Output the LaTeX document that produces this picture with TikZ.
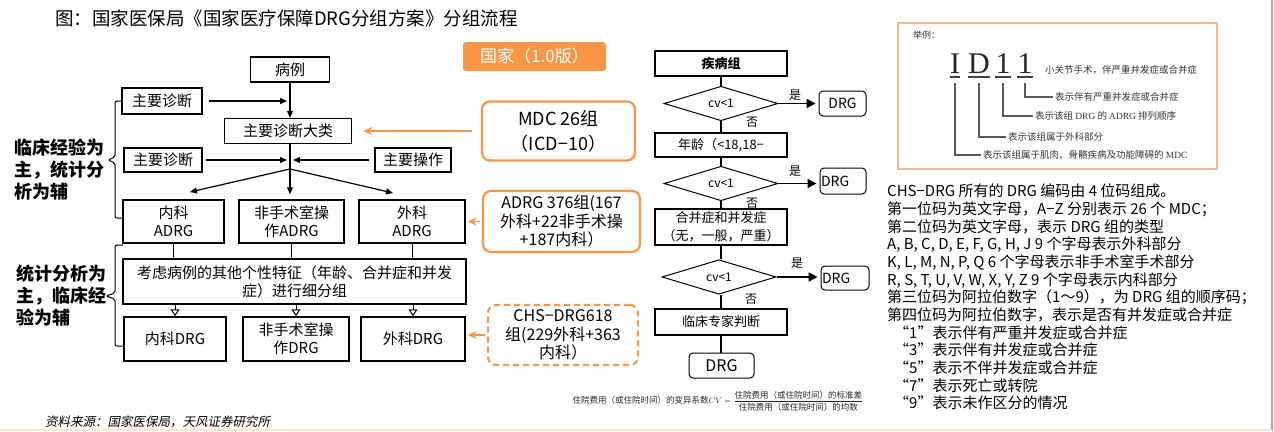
\documentclass[tikz,border=0pt]{standalone}
\usepackage{fontspec}
\setmainfont{Noto Sans CJK SC}
\newfontfamily\idfont{Liberation Serif}
\newfontfamily\srcfont[FakeSlant=0.2]{Noto Sans CJK SC}
\usetikzlibrary{arrows.meta,shapes.geometric}
\definecolor{drgorange}{HTML}{F79646}
\definecolor{egline}{HTML}{F8B98A}
\tikzset{
  blk/.style={draw,line width=1.5pt,align=center,inner sep=1pt,font=\fontsize{15}{18}\selectfont},
  note/.style={draw=drgorange,line width=2.2pt,rounded corners=8pt,align=center,inner sep=1pt,font=\fontsize{16}{18.5}\selectfont},
  orarr/.style={draw=drgorange,line width=1.5pt,-{Stealth[length=9pt,width=8pt]}},
  side/.style={anchor=west,align=left,inner sep=0pt,font=\fontsize{18}{22}\selectfont\bfseries},
  fbox/.style={draw,line width=1.2pt,align=center,inner sep=1pt,minimum width=132pt,font=\fontsize{13}{18}\selectfont},
  dia/.style={draw,diamond,line width=1pt,inner sep=0pt,minimum width=114pt,font=\fontsize{12}{12}\selectfont},
  rdrg/.style={draw,rounded corners=4pt,line width=1pt,inner sep=1pt,font=\fontsize{14}{14}\selectfont},
  lbl/.style={inner sep=0pt,font=\fontsize{12}{12}\selectfont},
  yesarr/.style={line width=1.5pt,-{Triangle[length=9pt,width=9pt]},shorten >=3pt},
  eg/.style={anchor=west,inner sep=0pt,text=black!80,font=\fontsize{9.5}{9.5}\selectfont},
  lead/.style={draw=black!65,line width=1.4pt,shorten >=2pt},
}
\begin{document}
\begin{tikzpicture}[x=1pt,y=-1pt,>={Triangle[length=7pt,width=6pt]}]
\useasboundingbox (0,0) rectangle (1274,431);
% 标题
\node[anchor=west,inner sep=0pt,font=\fontsize{18.5}{20}\selectfont] (title) at (55,18)
  {图：国家医保局《国家医疗保障DRG分组方案》分组流程};
% 左侧：分组流程
\node[blk,minimum width=79pt,minimum height=25pt] (case) at (290,69.5) {病例};
\node[blk,minimum width=80pt,minimum height=26pt] (diagA) at (162,101) {主要诊断};
\node[blk,minimum width=127pt,minimum height=25pt] (mdc) at (288,131) {主要诊断大类};
\node[blk,minimum width=78pt,minimum height=24pt] (diagB) at (163,160) {主要诊断};
\node[blk,minimum width=76pt,minimum height=24pt] (oper) at (413,160) {主要操作};
\coordinate (fork) at (290,169);
\coordinate (hitA) at (287,101);
\coordinate (hitB) at (287,160);
\coordinate (hitC) at (293,160);
\coordinate (toL) at (190,192);
\coordinate (toR) at (393,193);
\node[blk,minimum width=101pt,minimum height=43pt] (adrgA) at (173.5,221.5) {内科\\ADRG};
\node[blk,minimum width=105pt,minimum height=43pt] (adrgB) at (291.5,221.5) {非手术室操\\作ADRG};
\node[blk,minimum width=106pt,minimum height=43pt] (adrgC) at (412,221.5) {外科\\ADRG};
\node[blk,minimum width=343pt,minimum height=45pt] (detail) at (294.5,281.5)
  {考虑病例的其他个性特征（年龄、合并症和并发\\症）进行细分组};
\node[blk,minimum width=102pt,minimum height=44pt] (drgA) at (175,339) {内科DRG};
\node[blk,minimum width=106pt,minimum height=44pt] (drgB) at (296,339) {非手术室操\\作DRG};
\node[blk,minimum width=104pt,minimum height=44pt] (drgC) at (413,339) {外科DRG};
% 箭头
\begin{scope}[line width=1.2pt]
  \draw[->] (case.south) -- (case.south |- mdc.north);
  \draw[->,shorten <=6pt] (diagA) -- (hitA);
  \draw (mdc.south -| fork) -- (fork);
  \draw[->,shorten >=5pt] (fork) -- (fork |- adrgB.north);
  \draw[->,shorten <=3pt] (diagB) -- (hitB);
  \draw[->,shorten <=5pt] (oper) -- (hitC);
  \draw[->] (fork) -- (toL);
  \draw[->] (fork) -- (toR);
\end{scope}
\foreach \a in {A,B,C}{
  \draw[line width=1pt] (adrg\a.south) -- (adrg\a.south |- detail.north);
  \draw[line width=1pt,-{Triangle[open,length=7pt,width=9pt]}] (drg\a.north |- detail.south) -- (drg\a.north);
}
% 左侧括号与说明
\draw[line width=1pt,rounded corners=2pt] (diagA.west) -- (115,101) -- (115,157) -- (108,160)
  -- (115,163) -- (115,218) -- (123,218);
\draw[line width=1pt,rounded corners=2pt] (123,245) -- (115,245) -- (115,293) -- (106,296)
  -- (115,299) -- (115,346) -- (124,346);
\node[side] (expA) at (14,170) {临床经验为\\主，统计分\\析为辅};
\node[side] (expB) at (16,296) {统计分析为\\主，临床经\\验为辅};
% 中间：国家版本说明
\node[rounded corners=3pt,fill=drgorange,text=white,minimum width=143pt,minimum height=29pt,
  inner sep=0pt,font=\fontsize{17}{17}\selectfont] (ver) at (534.5,56.5) {国家（1.0版）};
\node[note,minimum width=153pt,minimum height=59pt,font=\fontsize{18}{25}\selectfont] (mdcnote)
  at (558.5,131) {MDC 26组\\（ICD−10）};
\node[note,minimum width=157pt,minimum height=61pt] (adrgnote) at (561.5,221.5)
  {ADRG 376组(167\\外科+22非手术操\\+187内科）};
\node[note,dash pattern=on 6pt off 4pt,minimum width=150pt,minimum height=60pt] (chsnote)
  at (563,335) {CHS−DRG618\\组(229外科+363\\内科）};
\draw[orarr,shorten <=9pt,shorten >=11pt] (mdcnote) -- (mdc);
\draw[orarr,shorten <=2pt,shorten >=2pt] (adrgnote) -- (adrgC);
\draw[orarr,shorten <=2pt,shorten >=2pt] (chsnote.west) -- (chsnote.west -| drgC.east);
% 中间：cv 判断流程
\node[fbox,minimum height=25pt,font=\fontsize{13}{13}\selectfont\bfseries] (group) at (721,63.5) {疾病组};
\node[dia,minimum height=31pt] (dia1) at (721,103.5) {cv<1};
\node[rdrg,minimum width=47pt,minimum height=25pt] (drg1) at (842.5,103.5) {DRG};
\node[fbox,minimum height=24pt] (age) at (721,145) {年龄（<18,18−};
\node[dia,minimum height=27pt] (dia2) at (721,183.5) {cv<1};
\node[rdrg,minimum width=46pt,minimum height=26pt,text width=44pt,align=left] (drg2) at (843,181) {DRG};
\node[fbox,minimum height=36pt] (comp) at (721,227) {合并症和并发症\\（无，一般，严重）};
\node[dia,minimum height=28pt] (dia3) at (719,277) {cv<1};
\node[rdrg,minimum width=48pt,minimum height=24pt,text width=46pt,align=left] (drg3) at (845,278) {DRG};
\node[fbox,minimum height=26pt] (expert) at (721,322) {临床专家判断};
\node[rdrg,minimum width=65pt,minimum height=25pt,font=\fontsize{16}{16}\selectfont] (drgend) at (721.5,365.5) {DRG};
\node[lbl] (yes1) at (795,95) {是};
\node[lbl] (no1) at (752,122) {否};
\node[lbl] (yes2) at (795,171) {是};
\node[lbl] (no2) at (752,203) {否};
\node[lbl] (yes3) at (797,263) {是};
\node[lbl] (no3) at (751,299) {否};
\begin{scope}[line width=1.2pt]
  \draw (group) -- (dia1);
  \draw (dia1) -- (age);
  \draw (age) -- (dia2);
  \draw (dia2) -- (comp);
  \draw (comp) -- (dia3.north -| comp);
  \draw (dia3.south -| expert) -- (expert);
  \draw (expert) -- (expert |- drgend.north);
\end{scope}
\draw[yesarr] (dia1.east) -- (drg1.west);
\draw[yesarr] (dia2.east) -- (dia2.east -| drg2.west);
\draw[yesarr] (dia3.east) -- (dia3.east -| drg3.west);
% 变异系数公式
\node[inner sep=0pt,text=black!85,font=\fontsize{8.5}{9}\selectfont] (cvdef) at (718,401)
  {住院费用（或住院时间）的变异系数$\displaystyle CV=\frac{\mbox{住院费用（或住院时间）的标准差}}{\mbox{住院费用（或住院时间）的均数}}$};
% 右侧：编码举例
\draw[draw=egline,line width=1.2pt] (898,23) rectangle (1217,169);
\node[eg,font=\fontsize{9}{9}\selectfont] (egtitle) at (913,35) {举例：};
\foreach \n/\x/\c in {1/955/I,2/979/D,3/1003/1,4/1025/1}{
  \node[anchor=base,inner sep=0pt,text=black!85,font=\idfont\fontsize{30}{30}\selectfont] (id\n) at (\x,73) {\c};
  \draw[line width=1.8pt,black!75] ([yshift=-4pt]id\n.base west) -- ([yshift=-4pt]id\n.base east);
}
\node[eg] (m0) at (1045,70) {小关节手术，伴严重并发症或合并症};
\node[eg] (m4) at (1055,97) {表示伴有严重并发症或合并症};
\node[eg] (m3) at (1035,116) {表示该组 {\idfont DRG} 的 {\idfont ADRG} 排列顺序};
\node[eg] (m2) at (1008,137) {表示该组属于外科部分};
\node[eg] (m1) at (983,155) {表示该组属于肌肉、骨骼疾病及功能障碍的 {\idfont MDC}};
\foreach \n in {1,...,4}
  \draw[lead] ([yshift=-10pt]id\n.base) |- (m\n.west);
% 右侧：编码规则
\node[anchor=north west,align=left,inner sep=0pt,font=\fontsize{15}{17.67}\selectfont] (codes) at (887,184)
  {CHS−DRG 所有的 DRG 编码由 4 位码组成。\\
   第一位码为英文字母，A−Z 分别表示 26 个 MDC；\\
   第二位码为英文字母，表示 DRG 组的类型\\
   A, B, C, D, E, F, G, H, J 9 个字母表示外科部分\\
   K, L, M, N, P, Q 6 个字母表示非手术室手术部分\\
   R, S, T, U, V, W, X, Y, Z 9 个字母表示内科部分\\
   第三位码为阿拉伯数字（1～9），为 DRG 组的顺序码；\\
   第四位码为阿拉伯数字，表示是否有并发症或合并症\\
   \hspace*{7pt}“1”表示伴有严重并发症或合并症\\
   \hspace*{7pt}“3”表示伴有并发症或合并症\\
   \hspace*{7pt}“5”表示不伴并发症或合并症\\
   \hspace*{7pt}“7”表示死亡或转院\\
   \hspace*{7pt}“9”表示未作区分的情况};
% 资料来源与边线
\node[anchor=west,inner sep=0pt,font=\srcfont\fontsize{12.5}{13}\selectfont] (src) at (45,422)
  {资料来源：国家医保局，天风证券研究所};
\draw[gray!70,line width=1.5pt] (1272,0) -- (1272,431);
\draw[drgorange!25,line width=1.5pt] (0,430) -- (1272,430);
\end{tikzpicture}
\end{document}
